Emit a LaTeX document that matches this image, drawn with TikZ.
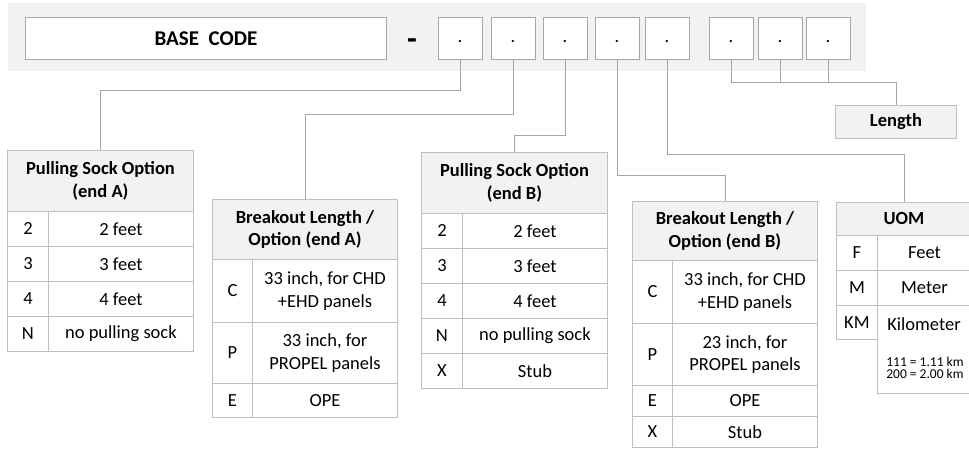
\documentclass[tikz,border=0pt]{standalone}
\usepackage{fontspec}
\setmainfont{Carlito}
\definecolor{bandgray}{HTML}{F2F2F2}
\definecolor{hdrgray}{HTML}{F2F2F2}
\definecolor{tabline}{HTML}{BFBFBF}
\definecolor{connline}{HTML}{A6A6A6}
\newcommand{\tabfont}{\fontsize{18.5}{22.5}\selectfont}
\tikzset{
  cell/.style={draw=tabline, line width=0.9pt, fill=white, anchor=north west, inner sep=0pt, align=center, font=\tabfont},
  hdr/.style={cell, fill=hdrgray, font=\bfseries\tabfont},
  codebox/.style={draw=connline, line width=0.9pt, fill=white, minimum width=44pt, minimum height=42pt, inner sep=0pt, font=\tabfont},
  conn/.style={draw=connline, line width=0.9pt}
}
\begin{document}
\begin{tikzpicture}[x=1pt,y=-1pt]
\useasboundingbox (0,0) rectangle (969,448);

% code band
\fill[bandgray] (8,3) rectangle (866,71);
\node[codebox, anchor=north west, minimum width=361pt, font=\bfseries\fontsize{21}{24}\selectfont] (base) at (25,17) {BASE\ \ CODE};
\node[font=\bfseries\fontsize{32}{34}\selectfont, inner sep=0pt] (dash) at (412,44) {-};
\foreach \x [count=\i] in {460,513,565,617,667,731,780,828}
  \node[codebox] (c\i) at (\x,38) {\strut.};

% length
\node[hdr, minimum width=121pt, minimum height=33pt] (len) at (835,105) {Length};

% pulling sock option, end A
\node[hdr, minimum width=186pt, minimum height=61pt] (psa) at (7,150) {Pulling Sock Option\\(end A)};
\foreach \k/\v/\y [count=\i] in {2/2 feet/211, 3/3 feet/246, 4/4 feet/281, N/no pulling sock/316}{
  \node[cell, minimum width=41pt, minimum height=35pt] (psa-k\i) at (7,\y) {\k};
  \node[cell, minimum width=145pt, minimum height=35pt] (psa-v\i) at (48,\y) {\v};
}

% breakout length, end A
\node[hdr, minimum width=185pt, minimum height=60pt] (bla) at (212,199) {Breakout Length /\\Option (end A)};
\foreach \k/\v/\y/\h [count=\i] in {C/{33 inch, for CHD\\+EHD panels}/259/63, P/{33 inch, for\\PROPEL panels}/322/61, E/OPE/383/34}{
  \node[cell, minimum width=40pt, minimum height=\h pt] (bla-k\i) at (212,\y) {\k};
  \node[cell, minimum width=145pt, minimum height=\h pt] (bla-v\i) at (252,\y) {\v};
}

% pulling sock option, end B
\node[hdr, minimum width=186pt, minimum height=61pt] (psb) at (421,152) {Pulling Sock Option\\(end B)};
\foreach \k/\v/\y [count=\i] in {2/2 feet/213, 3/3 feet/248, 4/4 feet/283, N/no pulling sock/318, X/Stub/353}{
  \node[cell, minimum width=41pt, minimum height=35pt] (psb-k\i) at (421,\y) {\k};
  \node[cell, minimum width=145pt, minimum height=35pt] (psb-v\i) at (462,\y) {\v};
}

% breakout length, end B
\node[hdr, minimum width=185pt, minimum height=59pt] (blb) at (632,201) {Breakout Length /\\Option (end B)};
\foreach \k/\v/\y/\h [count=\i] in {C/{33 inch, for CHD\\+EHD panels}/260/63, P/{23 inch, for\\PROPEL panels}/323/62, E/OPE/385/31, X/Stub/416/31}{
  \node[cell, minimum width=40pt, minimum height=\h pt] (blb-k\i) at (632,\y) {\k};
  \node[cell, minimum width=145pt, minimum height=\h pt] (blb-v\i) at (672,\y) {\v};
}

% unit of measure
\node[hdr, minimum width=135pt, minimum height=33pt] (uom) at (836,202) {UOM};
\foreach \k/\v/\y [count=\i] in {F/Feet/235, M/Meter/270}{
  \node[cell, minimum width=41pt, minimum height=35pt] (uom-k\i) at (836,\y) {\k};
  \node[cell, minimum width=94pt, minimum height=35pt] (uom-v\i) at (877,\y) {\v};
}
\node[cell, minimum width=41pt, minimum height=34pt] (uom-k3) at (836,305) {KM};
\node[cell, minimum width=94pt, minimum height=88pt] (uom-v3) at (877,305) {};
\node[font=\tabfont, inner sep=0pt] (uom-km) at (924,324) {Kilometer};
\node[font=\fontsize{13.5}{12.5}\selectfont, align=left, inner sep=0pt] (uom-note) at (925,368) {111 = 1.11 km\\200 = 2.00 km};

% connectors
\draw[conn] (c1.south) -- ++(0,31) -| (psa.north);
\draw[conn] (c2.south) -- ++(0,55) -| (bla.north);
\draw[conn] (c3.south) -- ++(0,76) -| (psb.north);
\draw[conn] (c4.south) -- ++(0,116) -| (blb.north);
\draw[conn] (c5.south) -- ++(0,95) -| (uom.north);
\draw[conn] (c6.south) -- ++(0,23) -| (len.north);
\draw[conn] (c7.south) -- ++(0,23);
\draw[conn] (c8.south) -- ++(0,23);

\end{tikzpicture}
\end{document}
